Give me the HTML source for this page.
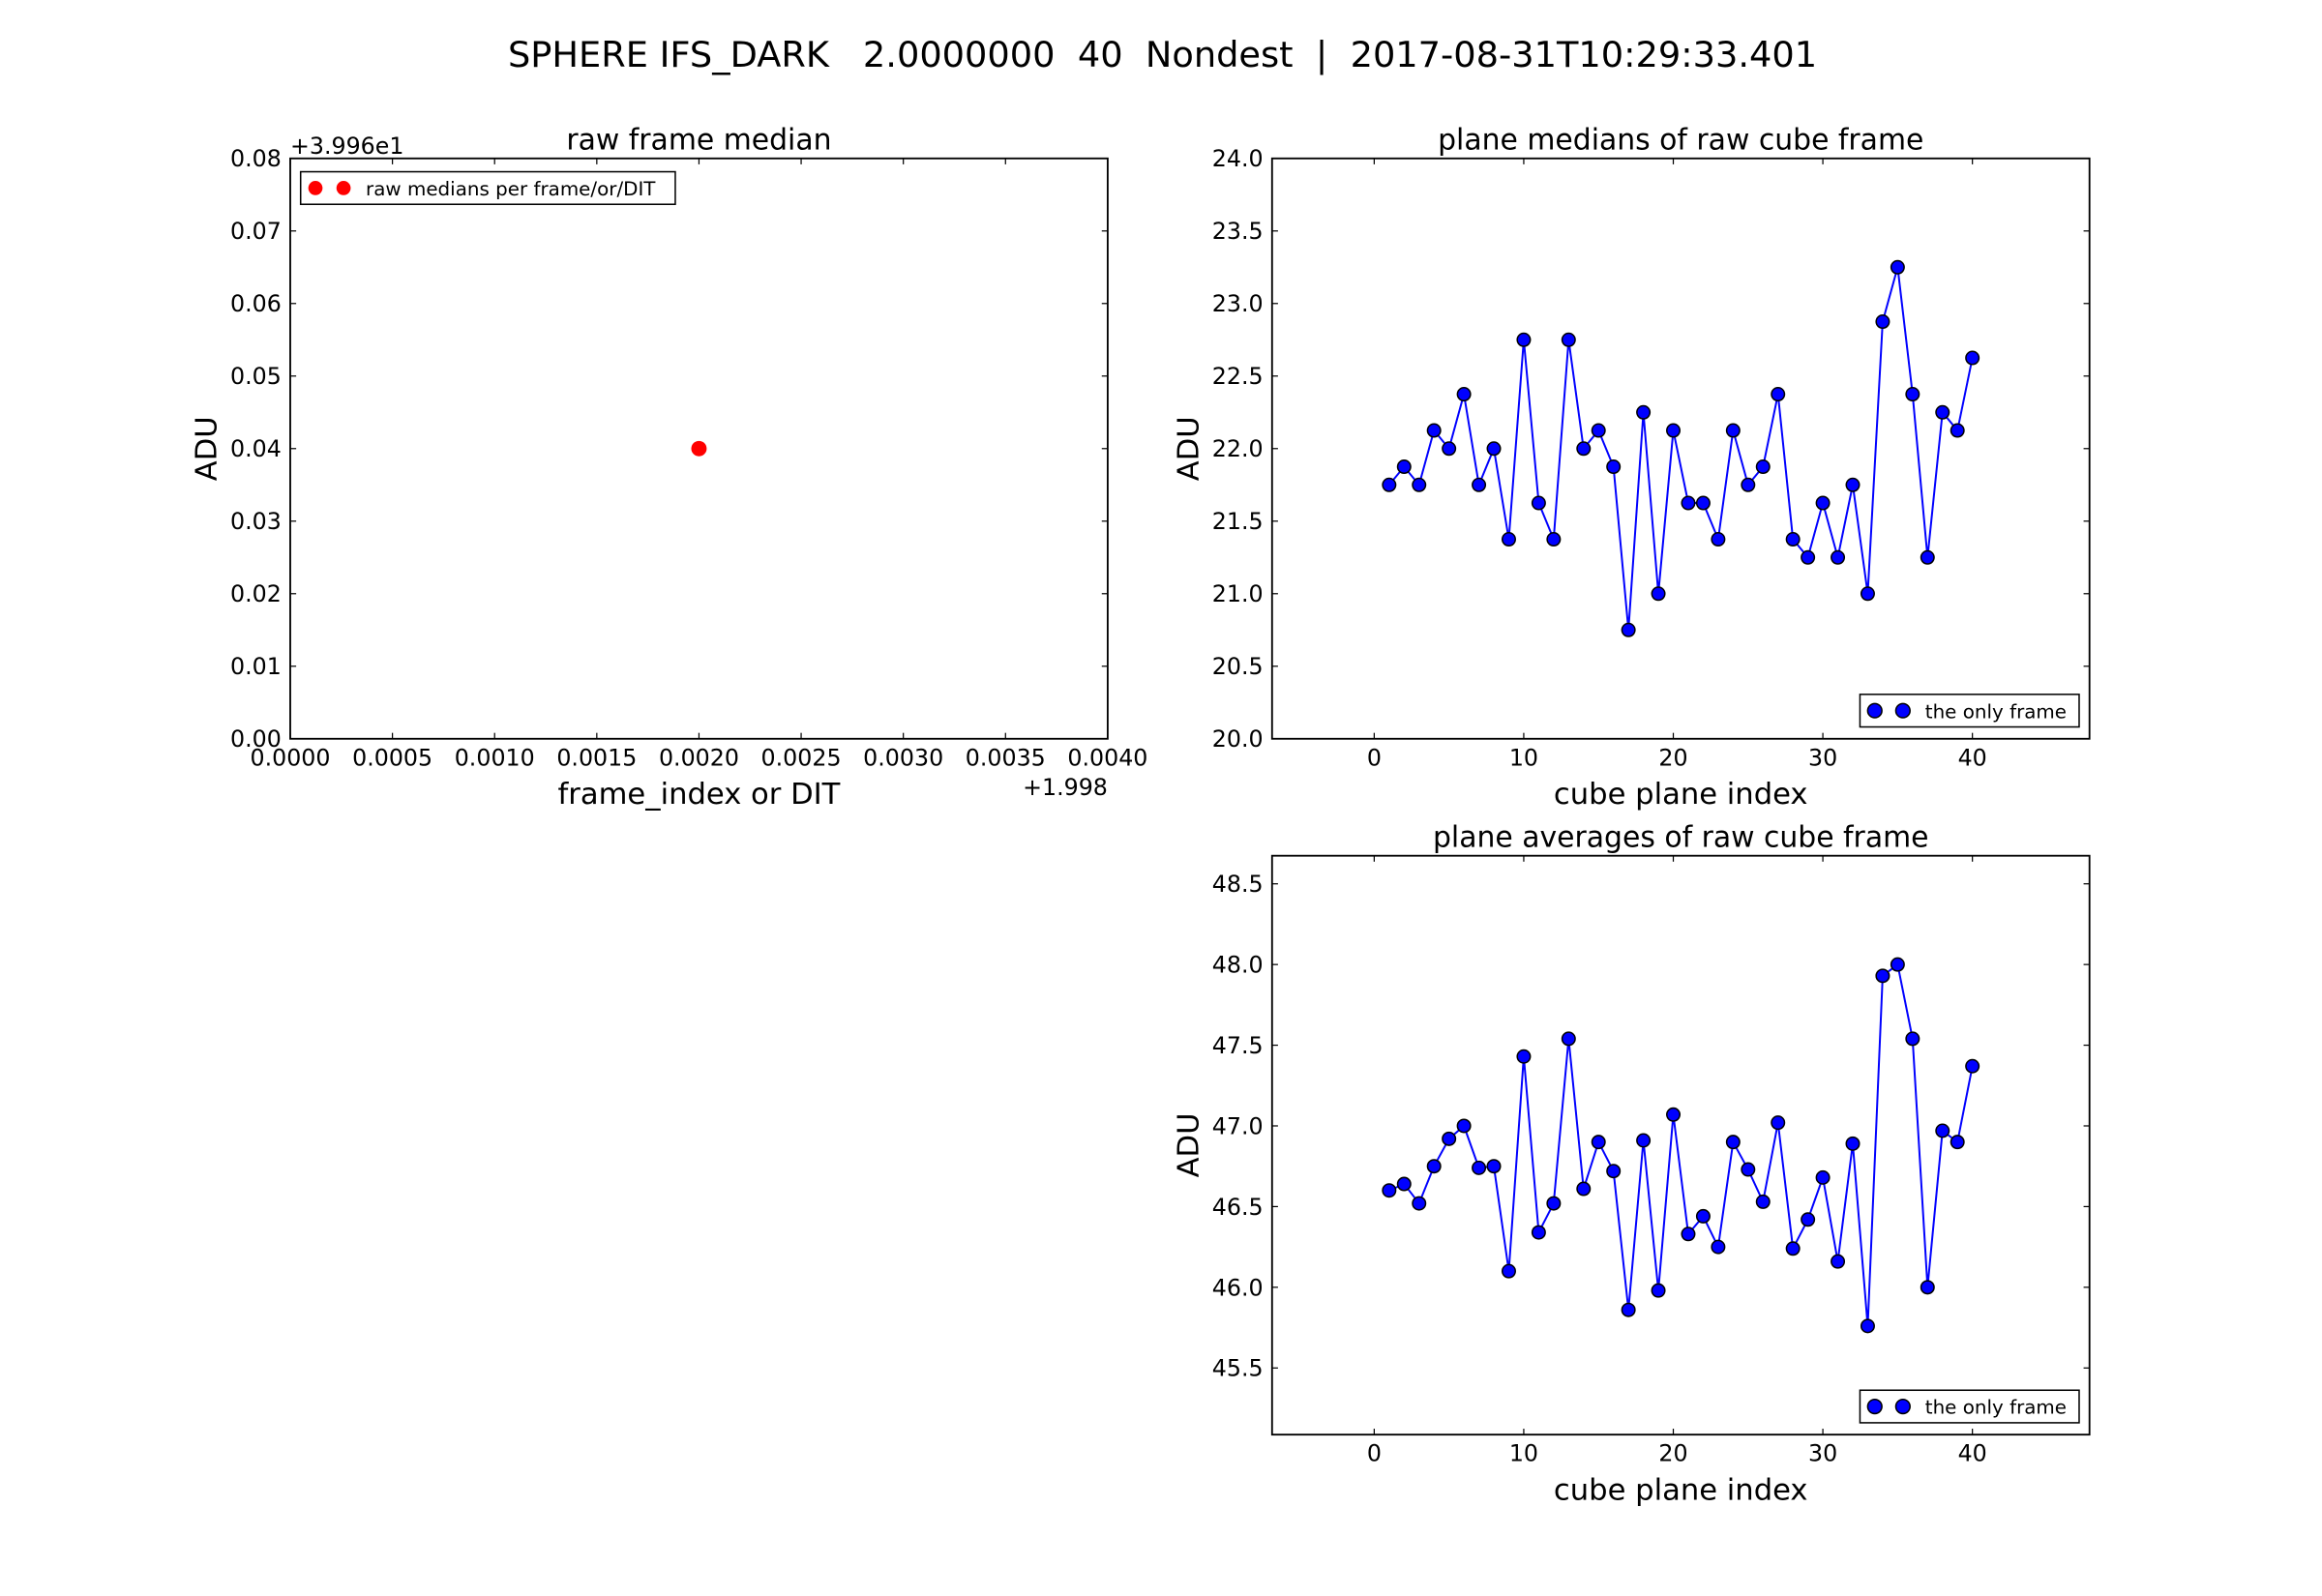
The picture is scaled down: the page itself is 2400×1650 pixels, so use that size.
<!DOCTYPE html>
<html><head><meta charset="utf-8"><style>
html,body{margin:0;padding:0;background:#fff;}
svg{display:block;font-family:"DejaVu Sans","Liberation Sans",sans-serif;}
.pre{white-space:pre;}
</style></head><body>
<svg id="fig" width="2400" height="1650" viewBox="0 0 1568 1078" preserveAspectRatio="none" xmlns="http://www.w3.org/2000/svg">
<rect width="1568" height="1078" fill="#fff"/>
<text class="pre" xml:space="preserve" x="785" y="45" font-size="24" text-anchor="middle">SPHERE IFS_DARK   2.0000000  40  Nondest  |  2017-08-31T10:29:33.401</text>
</svg>
<script>
const planeIdx = Array.from({length:40},(_,i)=>i+1);
const medians = [21.75,21.875,21.75,22.125,22.0,22.375,21.75,22.0,21.375,22.75,21.625,21.375,22.75,22.0,22.125,21.875,20.75,22.25,21.0,22.125,21.625,21.625,21.375,22.125,21.75,21.875,22.375,21.375,21.25,21.625,21.25,21.75,21.0,22.875,23.25,22.375,21.25,22.25,22.125,22.625];
const averages = [46.60,46.64,46.52,46.75,46.92,47.00,46.74,46.75,46.10,47.43,46.34,46.52,47.54,46.61,46.90,46.72,45.86,46.91,45.98,47.07,46.33,46.44,46.25,46.90,46.73,46.53,47.02,46.24,46.42,46.68,46.16,46.89,45.76,47.93,48.00,47.54,46.00,46.97,46.90,47.37];
const rawX = [0.002];
const rawY = [0.04];
const leftXTicks = [0,0.0005,0.001,0.0015,0.002,0.0025,0.003,0.0035,0.004];
const leftXLabels = ["0.0000","0.0005","0.0010","0.0015","0.0020","0.0025","0.0030","0.0035","0.0040"];
const leftYTicks = [0,0.01,0.02,0.03,0.04,0.05,0.06,0.07,0.08];
const leftYLabels = ["0.00","0.01","0.02","0.03","0.04","0.05","0.06","0.07","0.08"];
const cubeXTicks = [0,10,20,30,40];
const medYTicks = [20,20.5,21,21.5,22,22.5,23,23.5,24];
const avgYTicks = [45.5,46,46.5,47,47.5,48,48.5];

const svg = document.getElementById('fig');
const NS = 'http://www.w3.org/2000/svg';
function mk(tag, attrs, parent){
  const e = document.createElementNS(NS, tag);
  for (const k in attrs) e.setAttribute(k, attrs[k]);
  (parent||svg).appendChild(e);
  return e;
}
function txt(str, attrs, parent){ const t = mk('text', attrs, parent); t.textContent = str; return t; }

function axes(cfg){
  const g = mk('g', {});
  
  
  const {x0,x1,y0,y1,xmin,xmax,ymin,ymax} = cfg;
  const sx = v => x0 + (v - xmin) / (xmax - xmin) * (x1 - x0);
  const sy = v => y1 - (v - ymin) / (ymax - ymin) * (y1 - y0);
  cfg.xticks.forEach((v,i)=>{
    const x = sx(v);
    mk('line',{x1:x,y1:y1,x2:x,y2:y1-4,stroke:'#000','stroke-width':0.8},g);
    mk('line',{x1:x,y1:y0,x2:x,y2:y0+4,stroke:'#000','stroke-width':0.8},g);
    const t = txt(cfg.xlabels ? cfg.xlabels[i] : String(v), {x:x,y:y1+18,'font-size':15.5,'text-anchor':'middle'},g);
    
    
  });
  cfg.yticks.forEach((v,i)=>{
    const y = sy(v);
    mk('line',{x1:x0,y1:y,x2:x0+4,y2:y,stroke:'#000','stroke-width':0.8},g);
    mk('line',{x1:x1,y1:y,x2:x1-4,y2:y,stroke:'#000','stroke-width':0.8},g);
    const t = txt(cfg.ylabels ? cfg.ylabels[i] : v.toFixed(1), {x:x0-6,y:y+5.5,'font-size':15.5,'text-anchor':'end'},g);
    
    
  });
  const frame = mk('rect',{x:x0,y:y0,width:x1-x0,height:y1-y0,fill:'none',stroke:'#000','stroke-width':1.2},g);
  
  
  const tt = txt(cfg.title,{x:(x0+x1)/2,y:y0-6,'font-size':19.5,'text-anchor':'middle'},g);
  
  
  const xl = txt(cfg.xlabel,{x:(x0+x1)/2,y:y1+44,'font-size':20,'text-anchor':'middle'},g);
  
  
  const yx = x0 - 50, yy = (y0+y1)/2;
  const yl = txt('ADU',{x:yx,y:yy,'font-size':20,'text-anchor':'middle',transform:`rotate(-90 ${yx} ${yy})`},g);
  
  
  return {g,sx,sy};
}

function series(ax, xs, ys, color, edge, line, r){
  if (line){
    const p = mk('polyline',{points: xs.map((x,i)=>ax.sx(x)+','+ax.sy(ys[i])).join(' '),fill:'none',stroke:color,'stroke-width':1.3},ax.g);
    
    
  }
  xs.forEach((x,i)=>{
    const c = mk('circle',{cx:ax.sx(x),cy:ax.sy(ys[i]),r:r,fill:color,stroke:edge||'none','stroke-width':1},ax.g);
    
    
  });
}

function legend(ax, x, y, w, label, color, edge){
  const lg = mk('g',{},ax.g);
  
  
  mk('rect',{x:x,y:y,width:w,height:22,fill:'#fff',stroke:'#000','stroke-width':1},lg);
  mk('circle',{cx:x+10,cy:y+11,r:4.8,fill:color,stroke:edge||'none','stroke-width':1},lg);
  mk('circle',{cx:x+29,cy:y+11,r:4.8,fill:color,stroke:edge||'none','stroke-width':1},lg);
  txt(label,{x:x+44,y:y+16,'font-size':13},lg);
}

const L = axes({name:'raw-frame-median-plot',x0:196,x1:748,y0:107,y1:499,xmin:0,xmax:0.004,ymin:0,ymax:0.08,
  xticks:leftXTicks,xlabels:leftXLabels,yticks:leftYTicks,ylabels:leftYLabels,
  title:'raw frame median',xlabel:'frame_index or DIT'});
series(L, rawX, rawY, '#ff0000', null, false, 5.2);
legend(L, 203, 116, 253, 'raw medians per frame/or/DIT', '#ff0000', null);
const o1 = txt('+3.996e1',{x:196,y:104,'font-size':15.5},L.g);


const o2 = txt('+1.998',{x:748,y:537,'font-size':15.5,'text-anchor':'end'},L.g);



const R1 = axes({name:'plane-medians-plot',x0:859,x1:1411,y0:107,y1:499,xmin:-6.83,xmax:47.83,ymin:20,ymax:24,
  xticks:cubeXTicks,yticks:medYTicks,title:'plane medians of raw cube frame',xlabel:'cube plane index'});
series(R1, planeIdx, medians, '#0000ff', '#000', true, 4.4);
legend(R1, 1256, 469, 148, 'the only frame', '#0000ff', '#000');

const R2 = axes({name:'plane-averages-plot',x0:859,x1:1411,y0:578,y1:969,xmin:-6.83,xmax:47.83,ymin:45.087,ymax:48.674,
  xticks:cubeXTicks,yticks:avgYTicks,title:'plane averages of raw cube frame',xlabel:'cube plane index'});
series(R2, planeIdx, averages, '#0000ff', '#000', true, 4.4);
legend(R2, 1256, 939, 148, 'the only frame', '#0000ff', '#000');
</script>
</body></html>
